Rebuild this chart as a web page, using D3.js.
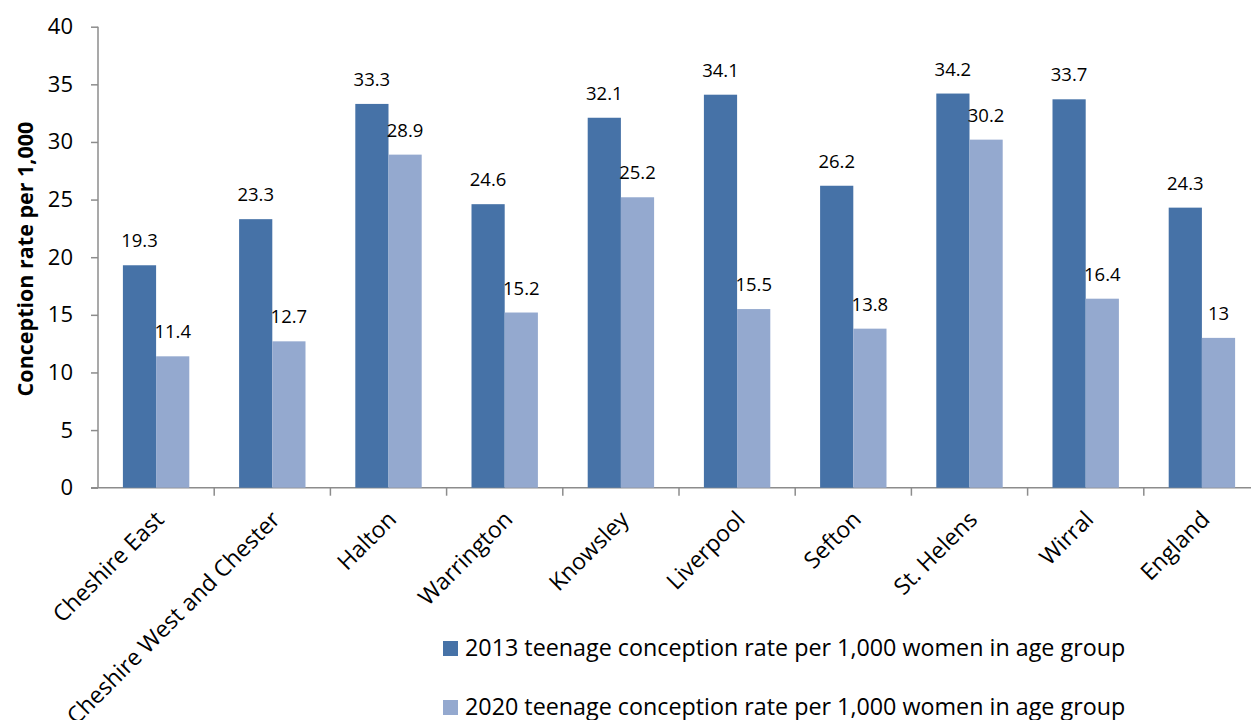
<!DOCTYPE html>
<html>
<head>
<meta charset="utf-8">
<script src="https://cdn.jsdelivr.net/npm/d3@7"></script>
<style>
  html, body { margin: 0; padding: 0; background: #fff; }
  svg { display: block; font-family: "Open Sans", "DejaVu Sans", sans-serif; }
</style>
</head>
<body>
<svg id="chart" width="1251" height="720"></svg>
<script>
// Areas shown on the x axis
const areas = ["Cheshire East", "Cheshire West and Chester", "Halton", "Warrington",
  "Knowsley", "Liverpool", "Sefton", "St. Helens", "Wirral", "England"];

// Teenage conception rate per 1,000 women in age group
const rate2013 = [19.3, 23.3, 33.3, 24.6, 32.1, 34.1, 26.2, 34.2, 33.7, 24.3];
const rate2020 = [11.4, 12.7, 28.9, 15.2, 25.2, 15.5, 13.8, 30.2, 16.4, 13];

const seriesNames = [
  "2013 teenage conception rate per 1,000 women in age group",
  "2020 teenage conception rate per 1,000 women in age group"
];
const seriesColors = ["#4672A7", "#94A9CF"];
const yTicks = [0, 5, 10, 15, 20, 25, 30, 35, 40];

const svg = d3.select("#chart");
const plotLeft = 98, plotTop = 26.7, plotBottom = 487.7, catStep = 116.2;

const x = d3.scaleBand()
  .domain(areas)
  .range([plotLeft, plotLeft + catStep * areas.length])
  .paddingInner(0).paddingOuter(0);

const xSeries = d3.scaleBand()
  .domain([0, 1])
  .range([0, x.bandwidth()])
  .paddingInner(0).paddingOuter(0.75);

const y = d3.scaleLinear().domain([0, 40]).range([plotBottom, plotTop]);

const axisColor = "#8c8c8c";

// Y axis
const yAxis = svg.append("g")
  .attr("transform", `translate(${plotLeft},0)`)
  .call(d3.axisLeft(y).tickValues(yTicks).tickSize(7).tickPadding(18).tickFormat(d3.format("d")));
yAxis.select(".domain").attr("stroke", axisColor).attr("stroke-width", 1.5)
  .attr("d", `M0,${plotTop}V${plotBottom}`);
yAxis.selectAll(".tick line").attr("stroke", axisColor).attr("stroke-width", 1.5);
yAxis.selectAll(".tick text").attr("font-size", 22).attr("fill", "#000")
  .attr("font-family", "Open Sans");

// X axis line with ticks at category boundaries
const xAxisG = svg.append("g");
xAxisG.append("line")
  .attr("x1", plotLeft - 7).attr("x2", 1251)
  .attr("y1", plotBottom).attr("y2", plotBottom)
  .attr("stroke", axisColor).attr("stroke-width", 1.5);
xAxisG.selectAll("line.bound")
  .data(areas.slice(1))
  .join("line")
  .attr("class", "bound")
  .attr("x1", d => x(d)).attr("x2", d => x(d))
  .attr("y1", plotBottom).attr("y2", plotBottom + 8)
  .attr("stroke", axisColor).attr("stroke-width", 1.5);

// Category labels, rotated
xAxisG.selectAll("text.cat")
  .data(areas)
  .join("text")
  .attr("class", "cat")
  .attr("transform", d => `translate(${x(d) + x.bandwidth() / 2 - 3},${plotBottom + 21}) rotate(-45)`)
  .attr("text-anchor", "end")
  .attr("dy", "0.75em")
  .attr("font-size", 23)
  .attr("fill", "#000")
  .text(d => d);

// Bars
const series = [rate2013, rate2020];
const groups = svg.append("g");
series.forEach((vals, si) => {
  const g = groups.append("g");
  g.selectAll("rect")
    .data(vals.map((v, i) => ({ area: areas[i], v })))
    .join("rect")
    .attr("x", d => x(d.area) + xSeries(si))
    .attr("width", xSeries.bandwidth())
    .attr("y", d => y(d.v))
    .attr("height", d => y(0) - y(d.v))
    .attr("fill", seriesColors[si]);
  g.selectAll("text")
    .data(vals.map((v, i) => ({ area: areas[i], v })))
    .join("text")
    .attr("x", d => x(d.area) + xSeries(si) + xSeries.bandwidth() / 2)
    .attr("y", d => y(d.v) - 18)
    .attr("text-anchor", "middle")
    .attr("font-size", 18.5)
    .attr("fill", "#000")
    .text(d => d.v);
});

// Y axis title
svg.append("text")
  .attr("transform", "translate(33,259) rotate(-90)")
  .attr("text-anchor", "middle")
  .attr("font-size", 21.5)
  .attr("font-weight", "bold")
  .attr("fill", "#000")
  .text("Conception rate per 1,000");

// Legend
const legend = svg.append("g");
const legendRows = [656, 715];
seriesNames.forEach((name, i) => {
  legend.append("rect")
    .attr("x", 443).attr("y", legendRows[i] - 15)
    .attr("width", 15).attr("height", 15)
    .attr("fill", seriesColors[i]);
  legend.append("text")
    .attr("x", 465).attr("y", legendRows[i])
    .attr("font-size", 23.3)
    .attr("fill", "#000")
    .text(name);
});
</script>
</body>
</html>
